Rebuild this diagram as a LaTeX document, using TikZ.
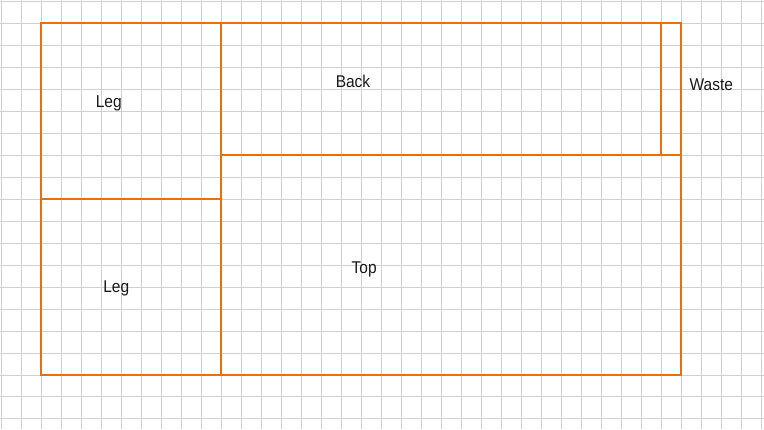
\documentclass[tikz,border=0pt]{standalone}
\usepackage{fontspec}
\setmainfont{Liberation Sans}
\definecolor{gridgray}{RGB}{208,208,208}
\definecolor{cutorange}{RGB}{230,112,16}
\begin{document}
\begin{tikzpicture}[x=1pt,y=-1pt,
  gridline/.style={draw=gridgray,line width=1pt},
  cut/.style={draw=cutorange,line width=2pt},
  lbl/.style={anchor=base,inner sep=0pt,text=black!90,font=\fontsize{15.5}{18}\selectfont}]
\useasboundingbox (0,0) rectangle (764,429);
\fill[white] (0,0) rectangle (764,429);
% grid
\foreach \k in {0,...,38} {
  \draw[gridline] ({1.5+20*\k},0) -- ({1.5+20*\k},429);
}
\foreach \k in {0,...,19} {
  \draw[gridline] (0,{1.7+21.96*\k}) -- (764,{1.7+21.96*\k});
}
% corners
\coordinate (TL) at (41,23);
\coordinate (TR) at (681,23);
\coordinate (BL) at (41,375);
\coordinate (BR) at (681,375);
\coordinate (M1) at (221,23);
\coordinate (M2) at (221,375);
\coordinate (L1) at (41,199);
\coordinate (L2) at (221,199);
\coordinate (B1) at (221,155);
\coordinate (B2) at (681,155);
\coordinate (W1) at (661,23);
\coordinate (W2) at (661,155);
\draw[cut,line join=miter] (TL) rectangle (BR);
\draw[cut] (M1) -- (M2);
\draw[cut] (L1) -- (L2);
\draw[cut] (B1) -- (B2);
\draw[cut] (W1) -- (W2);
% labels
\node[lbl] (leg1) at (108.7,107.3) {\scalebox{1}[1.1]{Leg}};
\node[lbl] (back) at (353,87.3) {\scalebox{1}[1.1]{Back}};
\node[lbl] (waste) at (711.3,90.7) {\scalebox{1}[1.1]{Waste}};
\node[lbl] (leg2) at (116.2,292.3) {\scalebox{1}[1.1]{Leg}};
\node[lbl] (top) at (364.2,273.3) {\scalebox{1}[1.1]{Top}};
\end{tikzpicture}
\end{document}
